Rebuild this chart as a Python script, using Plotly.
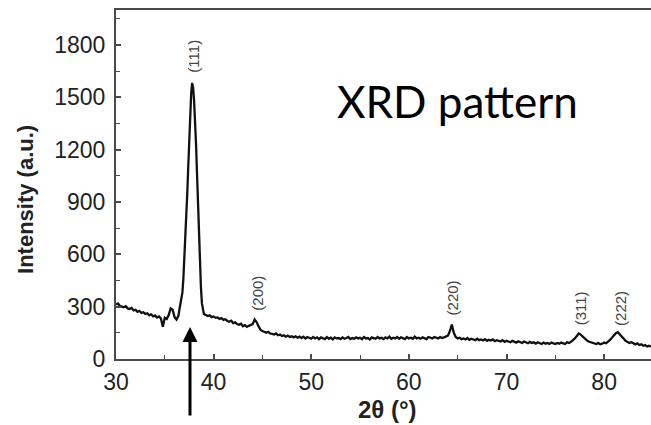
import numpy as np
import plotly.graph_objects as go

# 2-theta sampling: coarse scan, fine steps across the (111) reflection, coarse again
scan_segments = [(30.0, 36.4, 0.2), (36.5, 38.9, 0.1), (39.0, 84.8, 0.2)]

intensity_low = [
    312, 318, 304, 300, 296, 302, 290, 286, 292, 278,
    282, 270, 276, 264, 268, 258, 262, 250, 256, 244,
    250, 238, 244, 232, 185, 236, 230, 252, 290, 282,
    240, 226, 248,
]

intensity_peak = [
    285, 310, 335, 380, 460, 570, 690, 820, 950, 1100,
    1250, 1400, 1520, 1582, 1555, 1480, 1380, 1230, 1060, 880,
    700, 540, 410, 320, 275,
]

intensity_high = [
    258, 252, 246, 250, 240, 244, 236, 238, 230, 234,
    224, 228, 218, 214, 220, 206, 210, 200, 196, 202,
    188, 194, 184, 190, 196, 200, 226, 212, 188, 168,
    160, 154, 150, 156, 146, 144, 140, 146, 136, 140,
    132, 136, 128, 134, 126, 130, 124, 130, 122, 128,
    120, 128, 118, 126, 120, 116, 126, 118, 124, 114,
    124, 118, 114, 126, 116, 122, 112, 124, 118, 120,
    114, 124, 116, 120, 126, 114, 120, 116, 124, 118,
    122, 114, 126, 118, 120, 112, 124, 120, 116, 126,
    118, 122, 114, 124, 118, 128, 116, 122, 118, 126,
    116, 124, 120, 114, 126, 118, 122, 116, 128, 118,
    122, 116, 124, 118, 114, 126, 120, 118, 126, 122,
    118, 126, 120, 124, 128, 134, 160, 198, 150, 126,
    118, 122, 114, 118, 112, 120, 110, 116, 112, 108,
    116, 108, 112, 106, 114, 104, 110, 106, 112, 102,
    108, 104, 100, 108, 98, 104, 100, 96, 104, 98,
    94, 102, 96, 92, 100, 94, 90, 98, 92, 96,
    88, 96, 90, 86, 94, 88, 92, 86, 94, 90,
    86, 92, 88, 94, 90, 86, 96, 92, 98, 106,
    118, 132, 146, 140, 128, 116, 108, 100, 96, 92,
    90, 86, 92, 84, 88, 94, 90, 98, 110, 122,
    136, 148, 154, 142, 128, 114, 104, 98, 92, 96,
    88, 84, 90, 80, 84, 76, 80, 72, 76, 70,
]

# Miller-index labels: name, 2-theta position, label span (bottom, top)
peak_names = ["(111)", "(200)", "(220)", "(311)", "(222)"]
peak_theta = [37.8, 44.4, 64.4, 77.5, 81.6]
peak_label_low = [1620, 270, 235, 175, 175]
peak_label_high = [1850, 485, 465, 405, 405]

y_ticks = [0, 300, 600, 900, 1200, 1500, 1800]
x_ticks = [30, 40, 50, 60, 70, 80]
x_range = [30, 84.8]
y_range = [0, 2000]

two_theta = np.concatenate([
    np.round(np.arange(a, b + step / 2, step), 2) for a, b, step in scan_segments
])
intensity = np.array(intensity_low + intensity_peak + intensity_high, dtype=float)

AX_FONT = "Liberation Sans, Arial, sans-serif"

fig = go.Figure()
fig.add_trace(go.Scatter(
    x=two_theta, y=intensity, mode="lines",
    line=dict(color="#111111", width=2.3),
    hoverinfo="skip", showlegend=False,
))

axis_common = dict(
    showgrid=False, zeroline=False,
    showline=True, linecolor="#4a4a4a", linewidth=2,
    ticks="inside", ticklen=5, tickwidth=1.5, tickcolor="#4a4a4a",
    tickfont=dict(family=AX_FONT, size=23, color="#222222"),
)

fig.update_xaxes(
    **axis_common,
    range=x_range, tickvals=x_ticks, mirror=True,
    minor=dict(dtick=5, tick0=30, ticks="inside", ticklen=4,
               tickwidth=1.2, tickcolor="#4a4a4a"),
    ticklabelstandoff=1,
)
fig.update_yaxes(
    **axis_common,
    range=y_range, tickvals=y_ticks,
    minor=dict(dtick=150, tick0=0, ticks="inside", ticklen=4,
               tickwidth=1.2, tickcolor="#4a4a4a"),
    ticklabelstandoff=4,
)

# Miller indices: invisible vertical segments carrying a rotated label
for name, tx, lo, hi in zip(peak_names, peak_theta, peak_label_low, peak_label_high):
    fig.add_shape(
        type="line", xref="x", yref="y",
        x0=tx, x1=tx, y0=lo, y1=hi,
        line=dict(width=0, color="rgba(0,0,0,0)"),
        label=dict(
            text=name, textangle=-90, textposition="middle",
            xanchor="center", yanchor="middle",
            font=dict(family=AX_FONT, size=15, color="#444444"),
        ),
    )

# axis titles
fig.add_annotation(
    x=-0.168, y=0.456, xref="paper", yref="paper",
    text="<b>Intensity (a.u.)</b>", textangle=-90, showarrow=False,
    xanchor="center", yanchor="middle",
    font=dict(family=AX_FONT, size=22, color="#222222"),
)
fig.add_annotation(
    x=0.508, y=-0.146, xref="paper", yref="paper",
    text="<b>2θ (°)</b>", showarrow=False,
    xanchor="center", yanchor="middle",
    font=dict(family=AX_FONT, size=24, color="#222222"),
)

# caption inside the plot
fig.add_annotation(
    x=0.409, y=0.74, xref="paper", yref="paper",
    text="XRD pattern", showarrow=False,
    xanchor="left", yanchor="middle",
    font=dict(family="Lato, Open Sans, sans-serif", size=44, color="#000000"),
)

# arrow pointing up at the (111) reflection
fig.add_annotation(
    x=37.58, y=183, xref="x", yref="y", text="",
    showarrow=True, arrowhead=2, arrowsize=1, arrowwidth=3,
    arrowcolor="#000000", ax=0, ay=90, standoff=0,
)

fig.update_layout(
    width=651, height=425,
    margin=dict(l=116, r=0, t=10, b=66),
    paper_bgcolor="white", plot_bgcolor="white",
)

fig.write_html("out.html")
